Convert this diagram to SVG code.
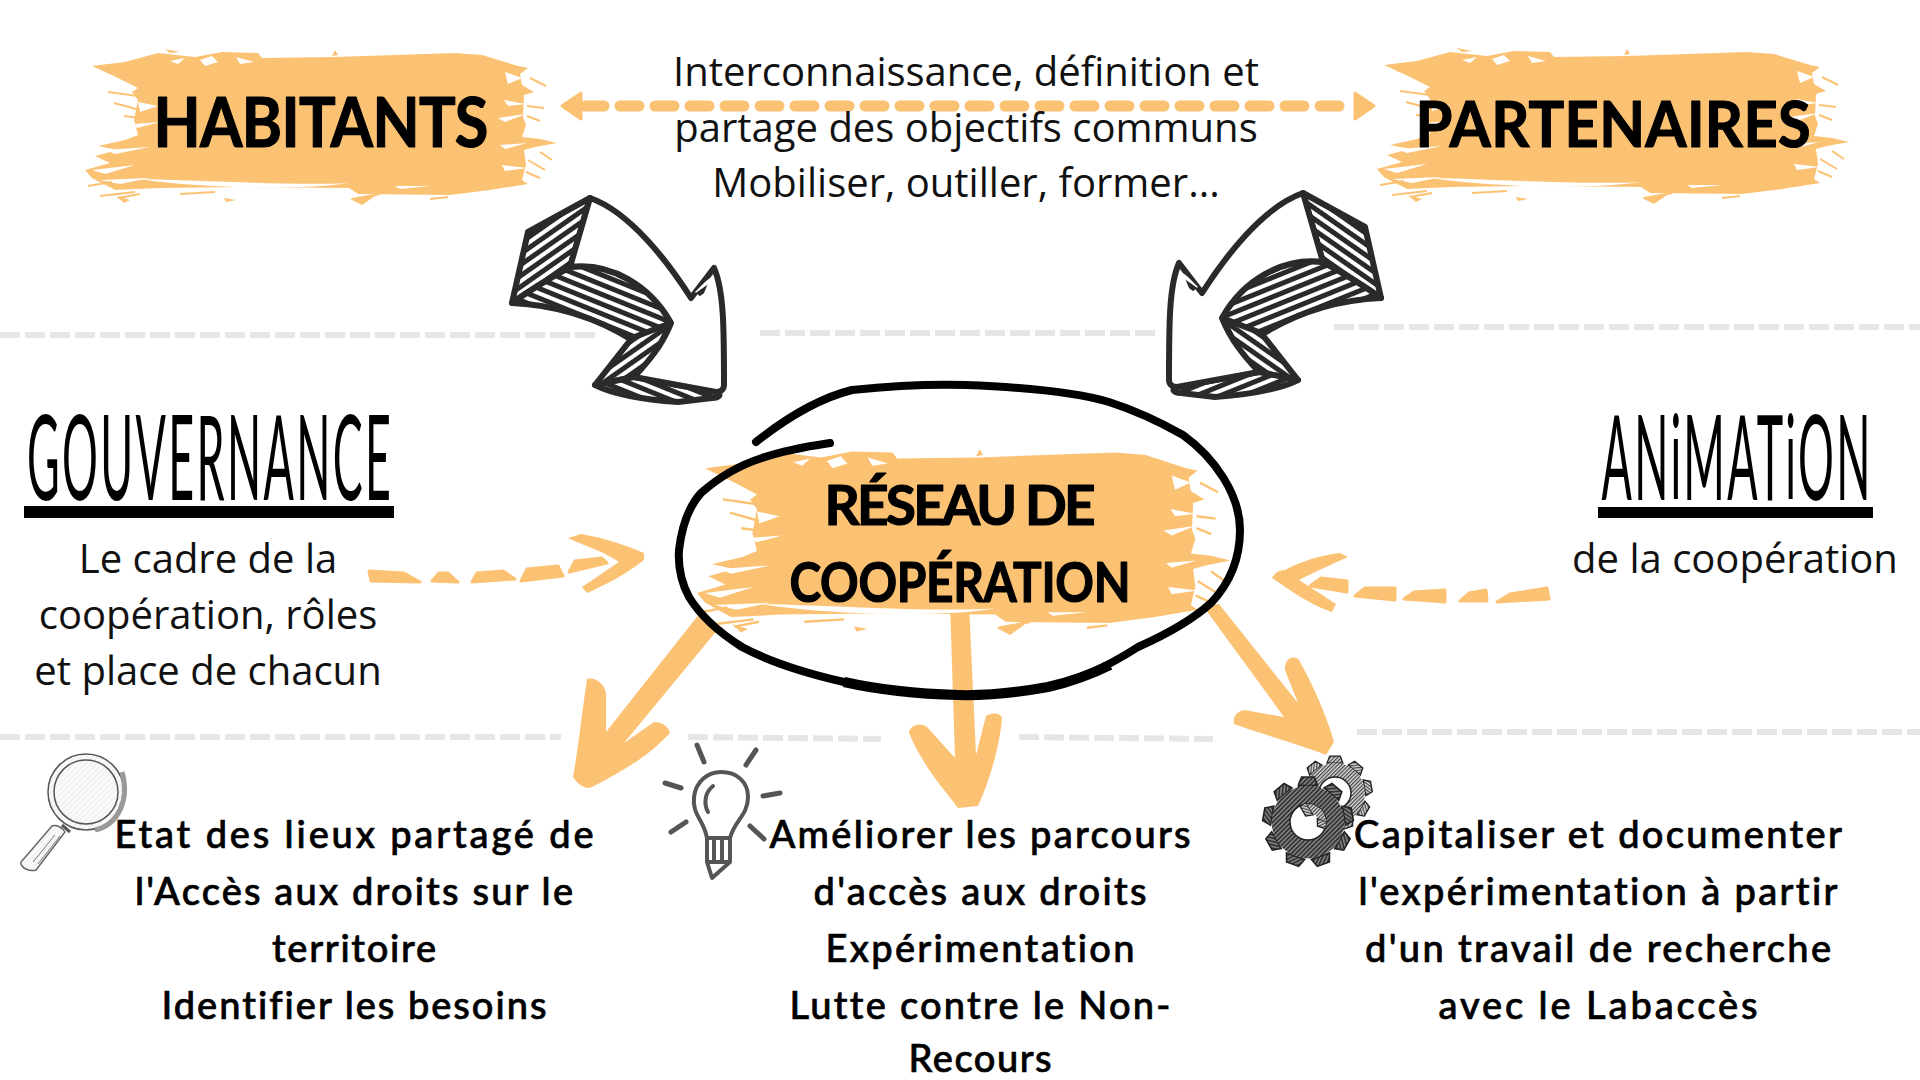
<svg xmlns="http://www.w3.org/2000/svg" xmlns:xlink="http://www.w3.org/1999/xlink" width="1920" height="1080" viewBox="0 0 1920 1080">
<style>
.body{font-family:"Open Sans","Noto Sans",sans-serif;font-size:40px;fill:#111;text-anchor:middle}
.low{font-family:Lato,"Noto Sans",sans-serif;font-size:38px;font-weight:500;fill:#000;stroke:#000;stroke-width:.7;text-anchor:middle;font-variant-ligatures:none}
.brand{font-family:Lato,"Liberation Sans",sans-serif;font-weight:700;fill:#000;stroke:#000;stroke-width:1.2;stroke-linejoin:round;text-anchor:middle}
.tall{font-family:Lato,"Liberation Sans",sans-serif;font-size:118px;font-weight:400;fill:#000;text-anchor:middle;font-variant-ligatures:none}
.grey{stroke:#e6e6e6;stroke-width:6;stroke-dasharray:20 5;fill:none}
.or{stroke:#fcc273;fill:none;stroke-linecap:round;stroke-linejoin:round}
.of{fill:#fcc273}
.ofs{fill:#fcc273;stroke:#fcc273;stroke-width:3;stroke-linejoin:round}
.sk{stroke:#2b2a2a;stroke-width:6;stroke-linejoin:round}
.bulb{stroke:#555;stroke-width:4;fill:none;stroke-linecap:round;stroke-linejoin:round}
</style>
<defs>
<pattern id="h1" width="9" height="9" patternUnits="userSpaceOnUse" patternTransform="rotate(-35)"><rect width="9" height="9" fill="#fff"/><rect width="9" height="5" fill="#2b2a2a"/></pattern>
<pattern id="h2" width="9" height="9" patternUnits="userSpaceOnUse" patternTransform="rotate(22)"><rect width="9" height="9" fill="#fff"/><rect width="9" height="5" fill="#2b2a2a"/></pattern>
<pattern id="gh" width="3" height="3" patternUnits="userSpaceOnUse" patternTransform="rotate(-45)"><rect width="3" height="3" fill="#8a8a8a"/><rect width="3" height="1.7" fill="#333"/></pattern>
<pattern id="gh2" width="3" height="3" patternUnits="userSpaceOnUse" patternTransform="rotate(-45)"><rect width="3" height="3" fill="#ddd"/><rect width="3" height="1.4" fill="#444"/></pattern>
<pattern id="lens" width="4" height="4" patternUnits="userSpaceOnUse" patternTransform="rotate(-45)"><rect width="4" height="4" fill="#fafafa"/><rect width="4" height=".5" fill="#ddd"/></pattern>
<clipPath id="bigHole"><circle cx="1308" cy="822" r="18"/></clipPath>
<g id="brush">
<path class="of" d="M92,66 L125,62 L158,53 L195,57 L222,52 L258,53 L262,58 L335,57 L455,53 L482,55 L518,66 L528,68 L520,74 L522,85 L534,92 L524,95 L523,117 L526,125 L522,137 L540,139 L557,143 L535,147 L524,150 L526,165 L522,180 L528,184 L490,190 L450,195 L358,194 L349,188 L240,187 L160,188 L115,190 L92,178 L85,170 L110,163 L95,156 L118,150 L98,146 L125,140 L138,135 L134,120 L138,100 L132,92 L138,88 L118,78Z"/>
<path fill="#fff" d="M138,179 C200,180 290,186 349,183 C300,191 200,188 138,179Z M200,60 L212,56 L218,62 L205,66Z M236,57 L254,62 L240,64Z M170,61 L185,58 L178,64Z M138,102 L158,106 L140,112Z M134,124 L160,122 L137,128Z M105,150 L150,147 L115,154Z M92,170 L135,165 L105,174Z M100,180 L150,178 L120,184Z M505,72 L522,78 L508,84Z M504,100 L526,104 L508,106Z M498,118 L526,114 L505,122Z M500,145 L527,143 L505,149Z M502,165 L528,168 L505,171Z M395,186 L430,186 L400,189Z"/>
<path fill="none" stroke="#fcc273" stroke-width="2" d="M108,92 L138,96 M114,103 L140,110 M124,116 L140,118 M530,78 L546,86 M527,106 L544,108 M527,116 L540,121 M528,160 L545,170 M526,172 L540,178 M88,186 L112,182 M100,196 L135,192 M118,198 L140,194 M180,194 L215,192 M430,199 L448,197 M352,199 L380,194 M540,152 L552,160"/>
<path class="of" d="M116,196 L130,200 L124,203Z M224,198 L236,200 L226,202Z M350,199 L378,194 L362,205Z M335,50 L338,55 L332,56Z M165,49 L180,52 L170,53Z"/>
</g>
<g id="sketchArrow">
<path class="sk" fill="url(#h1)" d="M590,198 L528,232 L512,303 L570,267Z"/>
<path class="sk" fill="url(#h2)" d="M512,303 C560,305 600,320 632,340 L671,323 C650,285 610,262 570,267 C550,278 530,290 512,303Z"/>
<path class="sk" fill="url(#h1)" d="M632,338 L671,323 L650,365 L634,377 L595,385Z"/>
<path class="sk" fill="url(#h2)" d="M595,385 L634,377 L716,392 C722,394 720,398 712,398 L678,402 C650,400 615,395 595,385Z"/>
<path class="sk" fill="#fff" d="M590,198 C630,212 668,262 691,298 L714,268 C724,290 724,330 724,385 C724,390 720,392 716,392 L634,377 C650,360 662,345 671,323 C650,285 610,262 570,267Z"/>
<path fill="url(#h1)" d="M695,292 L711,276 L702,298Z"/>
</g>
<g id="gear">
<path id="tooth" stroke="#222" stroke-width="1.5" d="M-9,-34 L-6,-42 L6,-42 L9,-34Z"/>
<use xlink:href="#tooth" href="#tooth" transform="rotate(40)"/><use xlink:href="#tooth" href="#tooth" transform="rotate(80)"/><use xlink:href="#tooth" href="#tooth" transform="rotate(120)"/><use xlink:href="#tooth" href="#tooth" transform="rotate(160)"/><use xlink:href="#tooth" href="#tooth" transform="rotate(200)"/><use xlink:href="#tooth" href="#tooth" transform="rotate(240)"/><use xlink:href="#tooth" href="#tooth" transform="rotate(280)"/><use xlink:href="#tooth" href="#tooth" transform="rotate(320)"/>
<circle r="34" stroke="none"/>
</g>
<g id="smallGear">
<use xlink:href="#gear" href="#gear" fill="url(#gh2)" transform="translate(1335,793) scale(.88)"/>
<circle cx="1335" cy="793" r="16" fill="#fff" stroke="#222" stroke-width="1.5"/>
</g>
</defs>
<rect width="1920" height="1080" fill="#fff"/>

<g id="separators">
<path class="grey" d="M0,335H595M760,333H1155M1334,327H1920M0,737H561M688,737L881,739M1019,737L1213,739M1357,732H1920"/>
</g>

<g id="connectors">
<path class="or" stroke-width="11" stroke-dasharray="19 16" d="M585,106H1350"/>
<path class="ofs" d="M562,106 L581,93 V119Z M1374,106 L1355,93 V119Z"/>
<path class="ofs" d="M369,571 L404,573 L420,582 L371,581Z M432,581 L439,573 L448,573 L458,582Z M472,582 L477,573 L503,571 L515,579Z M521,581 L527,569 L558,566 L563,576Z M569,572 L575,561 L602,558 L607,563Z"/>
<path class="of" d="M568,538 L581,534 C605,538 625,545 644,553 L644,560 C625,575 605,585 587,593 L582,587 L619,562 C605,552 585,546 568,538Z"/>
<path class="ofs" d="M1497,602 L1510,594 L1547,588 L1549,599Z M1460,601 L1469,593 L1486,590 L1487,601Z M1404,599 L1414,592 L1445,590 L1445,602Z M1355,596 L1365,588 L1395,588 L1395,600Z M1310,586 L1321,578 L1347,581 L1347,592Z"/>
<path class="of" d="M1340,553 L1348,557 C1330,565 1315,572 1299,580 L1336,604 L1332,612 C1310,605 1290,590 1272,578 C1275,572 1280,570 1285,570 C1300,562 1320,555 1340,553Z"/>
<path class="of" d="M700,613 L606,732 L606,693 C604,683 595,677 587,679 C581,720 578,750 573,777 C578,785 586,790 592,787 C625,770 650,755 670,733 C668,725 660,722 654,722 L624,743 L719,628Z"/>
<path class="of" d="M950,603 L955,758 L927,727 C920,722 910,725 909,733 C925,770 945,790 958,808 L978,806 C990,780 1000,745 1002,718 C1000,712 990,713 986,716 L976,755 L969,603Z"/>
<path class="of" d="M1203,606 L1284,717 L1250,711 C1240,708 1232,715 1234,724 C1265,735 1300,745 1326,755 L1334,742 C1325,710 1310,680 1299,660 C1292,654 1284,660 1285,670 L1298,703 L1219,604Z"/>
</g>

<g id="habitants"><use xlink:href="#brush" href="#brush"/><text class="brand" transform="translate(321,147) scale(.9,1)" font-size="68" textLength="372">HABITANTS</text></g>
<g id="partenaires"><use xlink:href="#brush" href="#brush" transform="translate(1292,-1)"/><text class="brand" transform="translate(1613,147) scale(.93,1)" font-size="64" textLength="425">PARTENAIRES</text></g>

<g id="objectifs" class="body">
<text x="966" y="86">Interconnaissance, définition et</text>
<text x="966" y="142">partage des objectifs communs</text>
<text x="966" y="197">Mobiliser, outiller, former...</text>
</g>

<g id="fleche-gauche"><use xlink:href="#sketchArrow" href="#sketchArrow"/></g>
<g id="fleche-droite"><use xlink:href="#sketchArrow" href="#sketchArrow" transform="translate(1893,-5) scale(-1,1)"/></g>

<g id="reseau">
<use xlink:href="#brush" href="#brush" transform="translate(601,389) scale(1.13,1.2)"/>
<path fill="none" stroke="#000" stroke-width="8" stroke-linecap="round" d="M756,442 C790,415 820,398 852,390 C890,386 930,384 966,385 C1020,387 1075,392 1109,402 C1140,412 1160,422 1183,435 C1215,458 1240,495 1240,530 C1240,560 1228,585 1211,603 C1190,622 1165,635 1138,647 C1110,665 1080,680 1048,687 C1020,692 990,696 958,695 C920,694 880,690 844,682 C805,673 770,662 742,647 C715,630 700,615 689,597 C680,580 678,565 679,550 C682,525 690,505 701,493 C718,478 740,465 762,458 C785,450 810,446 830,443"/>
<path fill="none" stroke="#000" stroke-width="10" d="M1110,665 C1090,675 1070,682 1048,687 C1020,692 990,696 958,695 C920,694 880,690 844,682"/>
<text class="brand" x="960" y="525" font-size="55" textLength="271">RÉSEAU DE</text>
<text class="brand" transform="translate(960,602) scale(.87,1)" font-size="55" textLength="392">COOPÉRATION</text>
</g>

<g id="gouvernance">
<text class="tall" transform="translate(209,500) scale(.38,1)" textLength="958">GOUVERNANCE</text>
<rect x="24" y="506" width="370" height="12"/>
<g class="body"><text x="208" y="573">Le cadre de la</text><text x="208" y="629">coopération, rôles</text><text x="208" y="685">et place de chacun</text></g>
</g>

<g id="animation">
<text class="tall" transform="translate(1736,500) scale(.38,1)" textLength="708">ANiMATiON</text>
<rect x="1598" y="507" width="275" height="11"/>
<text class="body" x="1735" y="573">de la coopération</text>
</g>

<g id="loupe">
<path fill="url(#lens)" stroke="#666" stroke-width="1.5" d="M52,826 L21,862 C20,868 30,872 36,870 L65,832 C63,828 56,824 52,826Z"/>
<path fill="none" stroke="#777" stroke-width="1" d="M55,835 L33,862 M60,836 L38,864"/>
<path d="M62,825 L70,832" stroke="#555" stroke-width="3"/>
<circle cx="86" cy="792" r="38" fill="url(#lens)" stroke="#555" stroke-width="1.5"/>
<circle cx="86" cy="792" r="32" fill="none" stroke="#555" stroke-width="1.5"/>
<path fill="none" stroke="#999" stroke-width="5" d="M122,772 C130,800 118,825 95,830"/>
</g>

<g id="ampoule" class="bulb">
<path d="M707,838 C704,820 692,815 694,797 C696,781 708,772 721,772 C737,772 748,782 748,797 C748,815 735,820 730,838Z"/>
<path d="M713,786 C704,793 704,805 708,812"/>
<path d="M707,838 V862 L712,878 L730,862 V838M707,862 H730M714,840 V860M722,840 V860"/>
<path stroke-width="5" d="M697,745 L704,762M756,750 L746,765M665,783 L681,788M763,796 L780,793M671,832 L686,822M750,826 L764,839"/>
</g>

<g id="engrenages">
<use xlink:href="#smallGear" href="#smallGear"/>
<use xlink:href="#gear" href="#gear" fill="url(#gh)" transform="translate(1308,822) scale(1.07)"/>
<circle cx="1308" cy="822" r="18" fill="#fff" stroke="#222" stroke-width="1.5"/>
<g clip-path="url(#bigHole)"><use xlink:href="#smallGear" href="#smallGear"/></g>
</g>

<g id="etat" class="low">
<text x="354" y="848" textLength="479">Etat des lieux partagé de</text>
<text x="354" y="905" textLength="438">l'Accès aux droits sur le</text>
<text x="354" y="962" textLength="164">territoire</text>
<text x="354" y="1019" textLength="385">Identifier les besoins</text>
</g>
<g id="ameliorer" class="low">
<text x="980" y="848" textLength="421">Améliorer les parcours</text>
<text x="980" y="905" textLength="333">d'accès aux droits</text>
<text x="980" y="962" textLength="309">Expérimentation</text>
<text x="980" y="1019" textLength="381">Lutte contre le Non-</text>
<text x="980" y="1072" textLength="143">Recours</text>
</g>
<g id="capitaliser" class="low">
<text x="1598" y="848" textLength="488">Capitaliser et documenter</text>
<text x="1598" y="905" textLength="479">l'expérimentation à partir</text>
<text x="1598" y="962" textLength="466">d'un travail de recherche</text>
<text x="1598" y="1019" textLength="319">avec le Labaccès</text>
</g>
</svg>
